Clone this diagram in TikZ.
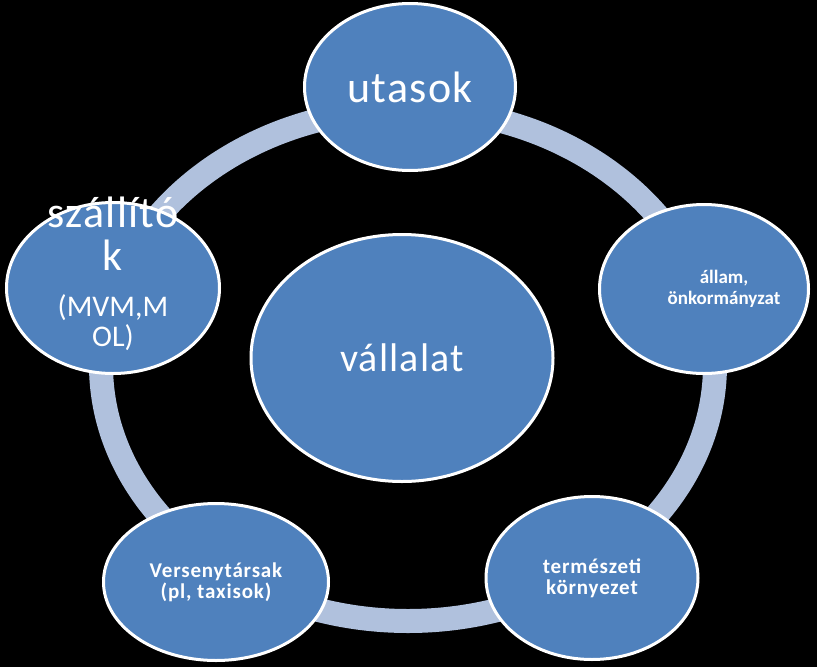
\documentclass[tikz,border=0pt]{standalone}
\usepackage{fontspec}
\setmainfont{Carlito}
\usetikzlibrary{shapes.geometric}

\definecolor{partyblue}{HTML}{4F81BD}
\definecolor{ringblue}{HTML}{B0C1DD}
\newcommand\midsize{\fontsize{30}{30}\selectfont\addfontfeature{LetterSpace=0}}

\begin{document}
\begin{tikzpicture}[
  x=1pt, y=-1pt,
  ring/.style={draw=ringblue, line width=24pt},
  party/.style={ellipse, draw=white, line width=3pt, fill=partyblue,
                inner sep=0pt, text=white, align=center},
  bigtxt/.style={font=\fontsize{44}{43}\selectfont\addfontfeature{LetterSpace=3}},
  smalltxt/.style={font=\fontsize{21}{21}\selectfont\bfseries\addfontfeature{LetterSpace=4},
                   text=white, align=center},
]

% ---------- background ----------
\fill[black] (0,0) rectangle (817,667);
\useasboundingbox (0,0) rectangle (817,667);

% ---------- ring behind the parties ----------
\draw[ring] (408,365) ellipse [x radius=307pt, y radius=256pt];

% ---------- centre ----------
\node[party, minimum width=302pt, minimum height=247pt,
      font=\fontsize{40}{40}\selectfont\addfontfeature{LetterSpace=3}]
  (vallalat) at (402,358) {vállalat};

% ---------- parties round the ring ----------
\node[party, bigtxt, minimum width=211pt, minimum height=167pt]
  (utasok) at (410,87) {utasok};
\node[party, minimum width=209pt, minimum height=169pt] (allam) at (704,289) {};
\node[party, minimum width=213pt, minimum height=171pt] (szallito) at (113,288) {};
\node[party, smalltxt, minimum width=225pt, minimum height=157pt]
  (verseny) at (216,582) {Versenytársak\\(pl, taxisok)};
\node[party, smalltxt, minimum width=212pt, minimum height=163pt]
  (termeszet) at (592,578) {természeti\\környezet};

% ---------- texts set off the bubble centres ----------
\node[smalltxt, font=\fontsize{19}{21}\selectfont\bfseries] (allam-t)
  at ([xshift=20pt]allam.center) {állam,\\önkormányzat};
\node[bigtxt, text=white, align=center] (szallito-t) at ([yshift=14pt]szallito.center)
  {szállító\\k\\[3pt]{\midsize(MVM,M}\\[-13pt]{\midsize OL)}};

\end{tikzpicture}
\end{document}
